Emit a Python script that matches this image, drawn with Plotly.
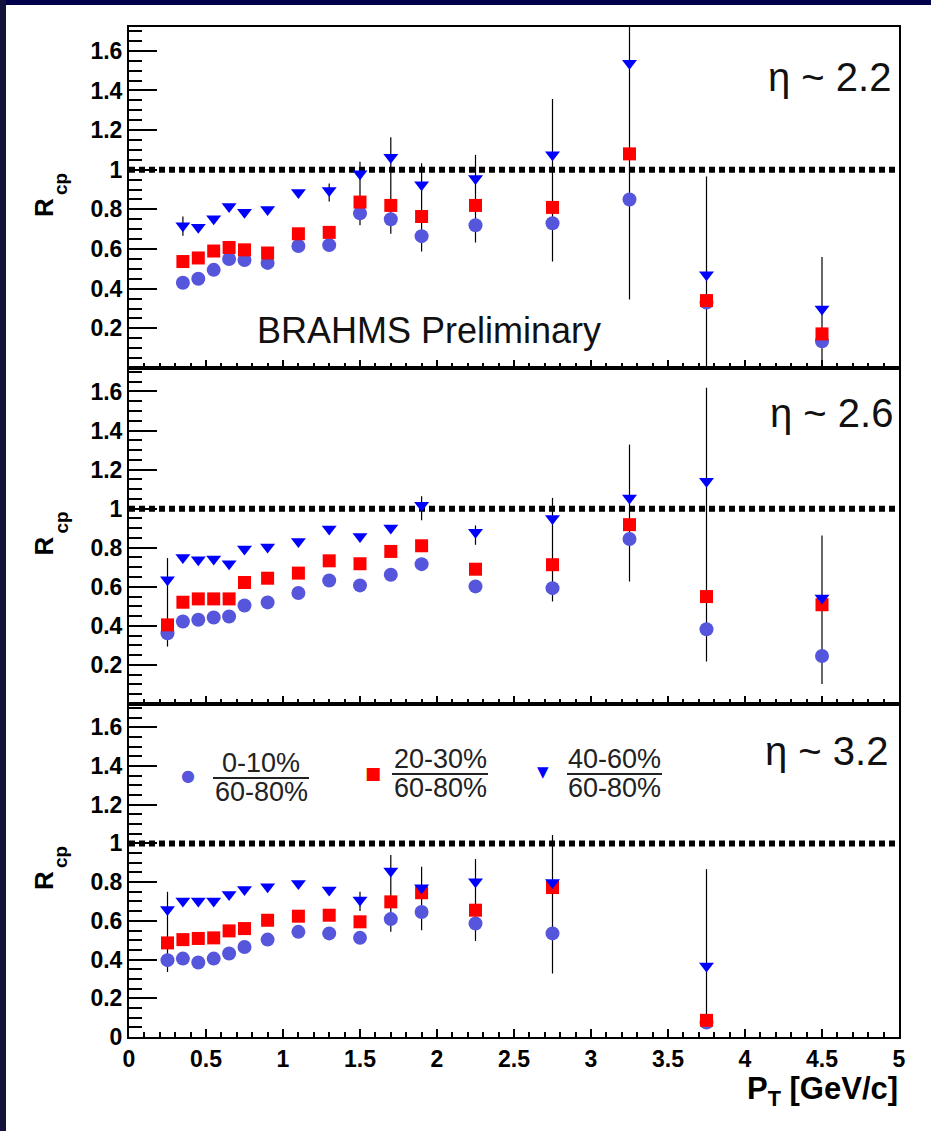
import numpy as np
import plotly.graph_objects as go
from plotly.subplots import make_subplots

# ---------------- data ----------------
panel_labels = ["η ~ 2.2", "η ~ 2.6", "η ~ 3.2"]
series_names = ["0-10% / 60-80%", "20-30% / 60-80%", "40-60% / 60-80%"]

x1 = [0.35, 0.45, 0.55, 0.65, 0.75, 0.9, 1.1, 1.3, 1.5, 1.7, 1.9, 2.25, 2.75, 3.25, 3.75, 4.5]
c1 = [0.43, 0.45, 0.495, 0.55, 0.545, 0.53, 0.615, 0.62, 0.78, 0.75, 0.665, 0.72, 0.73, 0.85, 0.33, 0.135]
s1 = [0.537, 0.555, 0.59, 0.608, 0.596, 0.58, 0.677, 0.684, 0.837, 0.82, 0.764, 0.82, 0.81, 1.08, 0.34, 0.172]
t1 = [0.717, 0.71, 0.753, 0.815, 0.785, 0.80, 0.885, 0.895, 0.98, 1.063, 0.924, 0.956, 1.075, 1.537, 0.47, 0.298]
e1_x = [0.35, 1.3, 1.5, 1.7, 1.9, 2.25, 2.75, 3.25, 3.75, 4.5]
e1_lo = [0.667, 0.84, 0.72, 0.677, 0.588, 0.633, 0.537, 0.345, 0.0, 0.0]
e1_hi = [0.764, 0.93, 1.04, 1.164, 1.033, 1.075, 1.357, 1.95, 0.966, 0.56]

x2 = [0.25, 0.35, 0.45, 0.55, 0.65, 0.75, 0.9, 1.1, 1.3, 1.5, 1.7, 1.9, 2.25, 2.75, 3.25, 3.75, 4.5]
c2 = [0.362, 0.422, 0.431, 0.443, 0.448, 0.504, 0.52, 0.568, 0.632, 0.607, 0.662, 0.716, 0.602, 0.593, 0.845, 0.383, 0.246]
s2 = [0.405, 0.521, 0.538, 0.538, 0.538, 0.622, 0.644, 0.67, 0.733, 0.718, 0.781, 0.81, 0.69, 0.713, 0.918, 0.55, 0.508]
t2 = [0.636, 0.75, 0.738, 0.742, 0.718, 0.793, 0.804, 0.832, 0.896, 0.858, 0.901, 1.017, 0.879, 0.949, 1.055, 1.14, 0.542]
e2_x = [0.25, 1.9, 2.25, 2.75, 3.25, 3.75, 4.5]
e2_lo = [0.294, 0.94, 0.815, 0.525, 0.627, 0.217, 0.103]
e2_hi = [0.747, 1.063, 0.914, 1.055, 1.328, 1.619, 0.863]

x3 = [0.25, 0.35, 0.45, 0.55, 0.65, 0.75, 0.9, 1.1, 1.3, 1.5, 1.7, 1.9, 2.25, 2.75, 3.75]
c3 = [0.397, 0.405, 0.385, 0.405, 0.431, 0.465, 0.503, 0.543, 0.535, 0.512, 0.609, 0.646, 0.586, 0.535, 0.075]
s3 = [0.486, 0.503, 0.509, 0.512, 0.548, 0.56, 0.603, 0.624, 0.629, 0.595, 0.698, 0.745, 0.655, 0.772, 0.086]
t3 = [0.659, 0.702, 0.702, 0.702, 0.736, 0.762, 0.776, 0.793, 0.759, 0.707, 0.857, 0.771, 0.802, 0.798, 0.367]
e3_x = [0.25, 1.5, 1.7, 1.9, 2.25, 2.75, 3.75]
e3_lo = [0.336, 0.651, 0.543, 0.552, 0.496, 0.328, 0.07]
e3_hi = [0.75, 0.75, 0.94, 0.879, 0.919, 1.043, 0.867]

x_ticks = [0, 0.5, 1, 1.5, 2, 2.5, 3, 3.5, 4, 4.5, 5]
x_ticktext = ["0", "0.5", "1", "1.5", "2", "2.5", "3", "3.5", "4", "4.5", "5"]
y_ticks = [0.2, 0.4, 0.6, 0.8, 1.0, 1.2, 1.4, 1.6]
y_ticktext = ["0.2", "0.4", "0.6", "0.8", "1", "1.2", "1.4", "1.6"]

panels = [
    (x1, c1, s1, t1, e1_x, e1_lo, e1_hi),
    (x2, c2, s2, t2, e2_x, e2_lo, e2_hi),
    (x3, c3, s3, t3, e3_x, e3_lo, e3_hi),
]

# ---------------- geometry ----------------
W, H = 931, 1131
L, R, T, B = 129, 32, 27, 94
PW, PH = W - L - R, H - T - B
edges = [27, 368, 704, 1037]  # panel borders in pixels


def px(xp):
    return (xp - L) / PW


def py(yp):
    return (H - B - yp) / PH


fig = make_subplots(rows=3, cols=1, shared_xaxes=True, vertical_spacing=0)

col_c = "#5656dc"
col_s = "#ff0000"
col_t = "#0000ff"

for i, (xs, cs, ss, ts, ex, elo, ehi) in enumerate(panels):
    row = i + 1
    mid = [(a + b) / 2 for a, b in zip(elo, ehi)]
    half = [(b - a) / 2 for a, b in zip(elo, ehi)]
    fig.add_trace(go.Scatter(x=ex, y=mid, mode="markers",
                             marker=dict(size=1, opacity=0),
                             error_y=dict(type="data", array=half, color="black",
                                          thickness=1.2, width=0),
                             showlegend=False, hoverinfo="skip"), row=row, col=1)
    fig.add_trace(go.Scatter(x=xs, y=cs, mode="markers", name=series_names[0],
                             marker=dict(symbol="circle", size=14, color=col_c),
                             showlegend=False), row=row, col=1)
    fig.add_trace(go.Scatter(x=xs, y=ss, mode="markers", name=series_names[1],
                             marker=dict(symbol="square", size=13, color=col_s),
                             showlegend=False), row=row, col=1)
    fig.add_trace(go.Scatter(x=xs, y=ts, mode="markers", name=series_names[2],
                             marker=dict(symbol="triangle-down", size=13, color=col_t),
                             showlegend=False), row=row, col=1)

x_minor = [round(v, 2) for v in np.arange(0, 5.0001, 0.1)]
y_minor = [round(v, 2) for v in np.arange(0, 1.7001, 0.05)]

tickfont = dict(family="Liberation Sans, Arial, sans-serif", size=23, color="black", weight="bold")

for i in range(3):
    row = i + 1
    top, bot = edges[i], edges[i + 1]
    dom = [py(bot), py(top)]
    fig.update_yaxes(row=row, col=1, domain=dom, range=[0, 1.72],
                     showline=True, linecolor="black", linewidth=2, mirror=True,
                     ticks="inside", ticklen=28, tickwidth=1.5, tickcolor="black",
                     tickmode="array",
                     tickvals=([0] + y_ticks) if row == 3 else y_ticks,
                     ticktext=(["0"] + y_ticktext) if row == 3 else y_ticktext,
                     tickfont=tickfont, showgrid=False, zeroline=False,
                     minor=dict(ticks="inside", ticklen=13, tickwidth=1.5, tickcolor="black",
                                tickmode="array", tickvals=y_minor, showgrid=False))
    fig.update_xaxes(row=row, col=1, range=[0, 5],
                     showline=True, linecolor="black", linewidth=2, mirror=True,
                     ticks="inside", ticklen=8, tickwidth=1.5, tickcolor="black",
                     tickmode="array", tickvals=x_ticks, ticktext=x_ticktext,
                     showticklabels=(row == 3),
                     tickfont=dict(family="Liberation Sans, Arial, sans-serif", size=23,
                                   color="black", weight="bold"),
                     showgrid=False, zeroline=False,
                     minor=dict(ticks="inside", ticklen=5, tickwidth=1.5, tickcolor="black",
                                tickmode="array", tickvals=x_minor, showgrid=False))
    # unity reference line
    xr = "x" if row == 1 else f"x{row}"
    yr = "y" if row == 1 else f"y{row}"
    fig.add_shape(type="line", xref=xr, yref=yr, x0=0, x1=5, y0=1, y1=1,
                  line=dict(color="black", width=6, dash="6px,4px"), layer="below")

annotations = []
# eta labels
eta_pos = [(893, 77), (895, 413), (890, 751)]
for lab, (ax_, ay_) in zip(panel_labels, eta_pos):
    annotations.append(dict(x=px(ax_), y=py(ay_), xref="paper", yref="paper",
                            text=lab, showarrow=False, xanchor="right", yanchor="middle",
                            font=dict(family="Liberation Sans, Arial", size=40, color="#111")))
# preliminary
annotations.append(dict(x=px(429), y=py(330), xref="paper", yref="paper",
                        text="BRAHMS Preliminary", showarrow=False,
                        xanchor="center", yanchor="middle",
                        font=dict(family="Liberation Sans, Arial", size=36, color="#111")))
# R_cp labels
for i in range(3):
    cen = (edges[i] + edges[i + 1]) / 2
    annotations.append(dict(x=px(43.5), y=py(cen + 10), xref="paper", yref="paper",
                            text="<b>R</b>", showarrow=False, textangle=-90,
                            xanchor="center", yanchor="middle",
                            font=dict(family="Liberation Sans, Arial", size=26, color="black")))
    annotations.append(dict(x=px(60.5), y=py(cen - 13), xref="paper", yref="paper",
                            text="<b>cp</b>", showarrow=False, textangle=-90,
                            xanchor="center", yanchor="middle",
                            font=dict(family="Liberation Sans, Arial", size=19, color="black")))
# x title
annotations.append(dict(x=px(900), y=py(1091), xref="paper", yref="paper",
                        text="<b>P<sub>T</sub> [GeV/c]</b>", showarrow=False,
                        xanchor="right", yanchor="middle",
                        font=dict(family="Liberation Sans, Arial", size=31, color="black")))

# legend (fractions)
leg_font = dict(family="Liberation Sans, Arial", size=27, color="#222")
legend_items = [
    ("●", col_c, 16, 188, 775, "0-10%", "60-80%", 261, 763, 778, 792, 213, 309),
    ("■", col_s, 17, 373, 773, "20-30%", "60-80%", 440, 759, 774, 788, 392, 488),
    ("▼", col_t, 15, 543, 772, "40-60%", "60-80%", 614.5, 759, 774, 788, 567, 662),
]
shapes_extra = []
for sym, colr, ssz, mx, my, num, den, tx, ny, ly, dy, lx0, lx1 in legend_items:
    annotations.append(dict(x=px(mx), y=py(my), xref="paper", yref="paper", text=sym,
                            showarrow=False, xanchor="center", yanchor="middle",
                            font=dict(family="DejaVu Sans", size=ssz, color=colr)))
    annotations.append(dict(x=px(tx), y=py(ny), xref="paper", yref="paper", text=num,
                            showarrow=False, xanchor="center", yanchor="middle", font=leg_font))
    annotations.append(dict(x=px(tx), y=py(dy), xref="paper", yref="paper", text=den,
                            showarrow=False, xanchor="center", yanchor="middle", font=leg_font))
    shapes_extra.append(dict(type="line", xref="paper", yref="paper",
                             x0=px(lx0), x1=px(lx1), y0=py(ly), y1=py(ly),
                             line=dict(color="#222", width=2)))

# dark frame on top and left edges
shapes_extra.append(dict(type="rect", xref="paper", yref="paper",
                         x0=px(0), x1=px(W), y0=py(5), y1=py(0),
                         fillcolor="#00004a", line=dict(width=0), layer="above"))
shapes_extra.append(dict(type="rect", xref="paper", yref="paper",
                         x0=px(0), x1=px(6), y0=py(H), y1=py(0),
                         fillcolor="#12123a", line=dict(width=0), layer="above"))

for s in shapes_extra:
    fig.add_shape(**s)

fig.update_layout(width=W, height=H, margin=dict(l=L, r=R, t=T, b=B),
                  paper_bgcolor="white", plot_bgcolor="white",
                  annotations=annotations, showlegend=False)

fig.write_html("out.html")
